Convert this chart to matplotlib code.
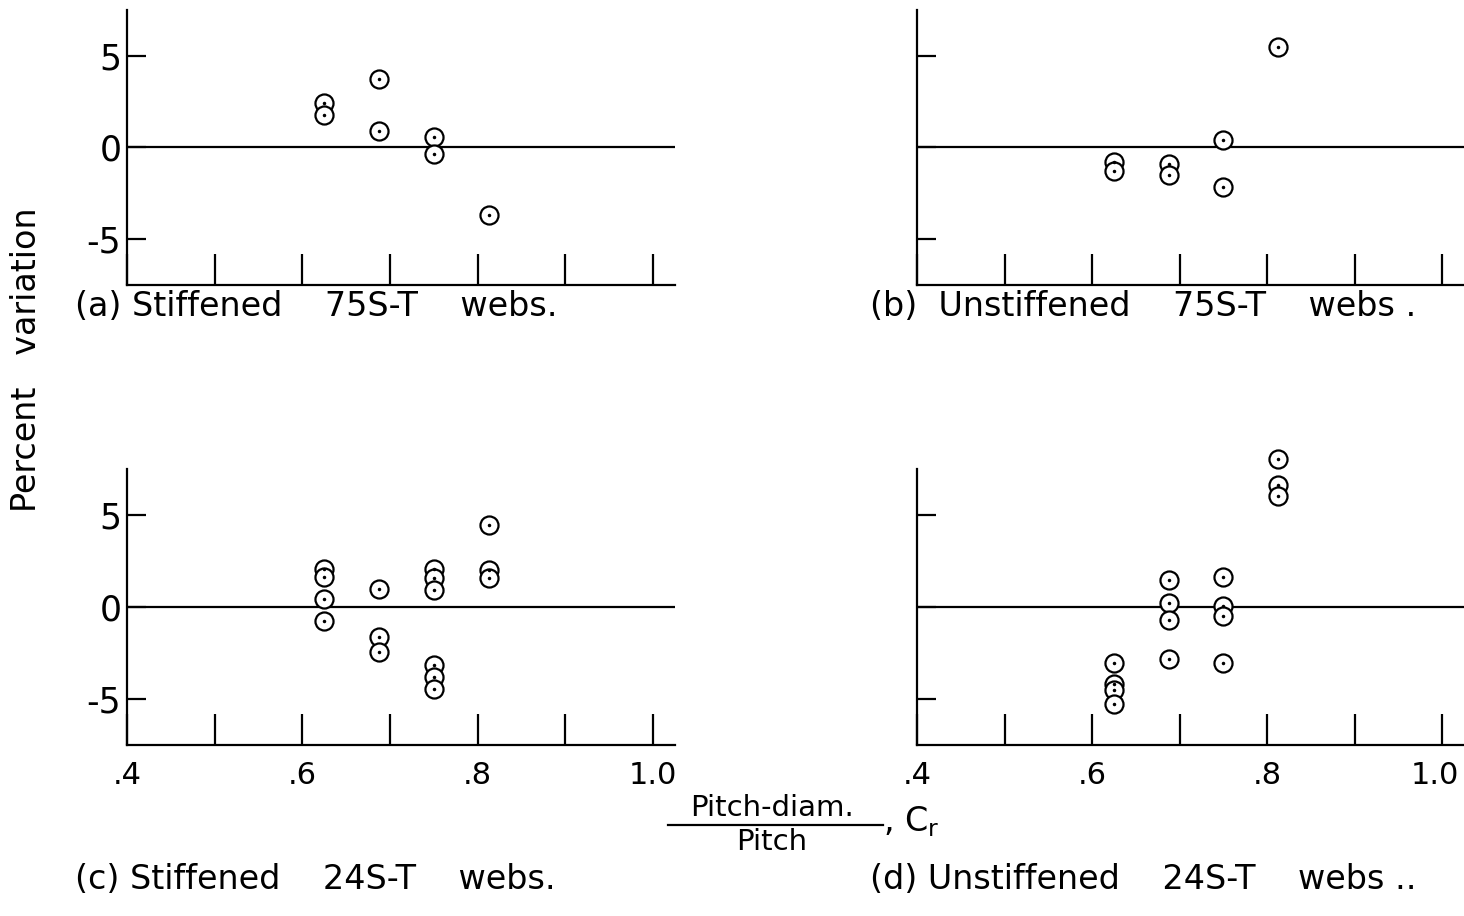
import matplotlib.pyplot as plt
from matplotlib.lines import Line2D
from matplotlib.transforms import ScaledTranslation

plt.rcParams['font.family'] = ['DejaVu Sans']

# (a) stiffened 75S-T webs
cr_a = [0.625, 0.625, 0.6875, 0.6875, 0.75, 0.75, 0.8125]
var_a = [2.45, 1.77, 3.75, 0.9, 0.56, -0.36, -3.69]

# (b) unstiffened 75S-T webs
cr_b = [0.625, 0.625, 0.6875, 0.6875, 0.75, 0.75, 0.8125]
var_b = [-0.79, -1.3, -0.88, -1.51, 0.41, -2.16, 5.5]

# (c) stiffened 24S-T webs
cr_c = [0.625, 0.625, 0.625, 0.625,
        0.6875, 0.6875, 0.6875,
        0.75, 0.75, 0.75, 0.75, 0.75, 0.75,
        0.8125, 0.8125, 0.8125]
var_c = [2.08, 1.63, 0.45, -0.76,
         0.98, -1.63, -2.48,
         2.04, 1.59, 0.94, -3.16, -3.8, -4.48,
         4.47, 1.99, 1.59]

# (d) unstiffened 24S-T webs
cr_d = [0.625, 0.625, 0.625, 0.625,
        0.6875, 0.6875, 0.6875, 0.6875,
        0.75, 0.75, 0.75, 0.75,
        0.8125, 0.8125, 0.8125]
var_d = [-3.07, -4.2, -4.5, -5.3,
         1.48, 0.22, -0.72, -2.82,
         1.6, 0.04, -0.5, -3.07,
         8.07, 6.62, 6.05]

captions = ['(a) Stiffened    75S-T    webs.',
            '(b)  Unstiffened    75S-T    webs .',
            '(c) Stiffened    24S-T    webs.',
            '(d) Unstiffened    24S-T    webs ..']
x_ticks = [0.4, 0.5, 0.6, 0.7, 0.8, 0.9, 1.0]
x_ticklabels = ['.4', '', '.6', '', '.8', '', '1.0']
y_ticks = [-5, 0, 5]

fig = plt.figure(figsize=(14.64, 9.16), dpi=100)

boxes = [[0.0867, 0.689, 0.3743, 0.300],
         [0.6264, 0.689, 0.3736, 0.300],
         [0.0867, 0.187, 0.3743, 0.301],
         [0.6264, 0.187, 0.3736, 0.301]]
data = [(cr_a, var_a), (cr_b, var_b), (cr_c, var_c), (cr_d, var_d)]
cap_pos = [(0.051, 0.647), (0.594, 0.647), (0.051, 0.022), (0.594, 0.022)]

for i, (box, (xs, ys)) in enumerate(zip(boxes, data)):
    ax = fig.add_axes(box)
    ax.set_xlim(0.4, 1.025)
    ax.set_ylim(-7.5, 7.5)
    ax.spines['top'].set_visible(False)
    ax.spines['right'].set_visible(False)
    for s in ('left', 'bottom'):
        ax.spines[s].set_linewidth(1.6)
    ax.axhline(0, color='k', lw=1.6, zorder=1)
    ax.plot(xs, ys, 'o', ms=13, mfc='white', mec='k', mew=1.6, zorder=3,
            clip_on=False)
    ax.plot(xs, ys, '.', ms=3, color='k', zorder=4, clip_on=False)
    ax.set_xticks(x_ticks)
    ax.set_yticks(y_ticks)
    ax.tick_params(axis='x', direction='in', length=22, width=1.6, pad=12,
                   labelsize=22)
    ax.tick_params(axis='y', direction='in', length=14, width=1.6, pad=4,
                   labelsize=25)
    if i >= 2:
        ax.set_xticklabels(x_ticklabels)
    else:
        ax.set_xticklabels([])
    if i % 2 == 0:
        ax.set_yticklabels(['-5', '0', '5'])
    else:
        ax.set_yticklabels([])
    if i == 3:
        # keep the last label inside the page edge
        lbl = ax.get_xticklabels()[-1]
        lbl.set_transform(lbl.get_transform()
                          + ScaledTranslation(-0.07, 0, fig.dpi_scale_trans))
    fig.text(cap_pos[i][0], cap_pos[i][1], captions[i], fontsize=24,
             ha='left', va='bottom')

fig.text(0.018, 0.607, 'Percent   variation', rotation=90, fontsize=24,
         ha='center', va='center')

# x-axis label: Pitch-diam. / Pitch, C_r
fig.text(0.527, 0.103, 'Pitch-diam.', fontsize=21, ha='center', va='bottom')
fig.text(0.527, 0.096, 'Pitch', fontsize=21, ha='center', va='top')
fig.add_artist(Line2D([0.456, 0.603], [0.099, 0.099], color='k', lw=1.6))
fig.text(0.603, 0.084, r', $\mathrm{C_r}$', fontsize=24, ha='left',
         va='bottom')

fig.savefig('out.png', dpi=100)
